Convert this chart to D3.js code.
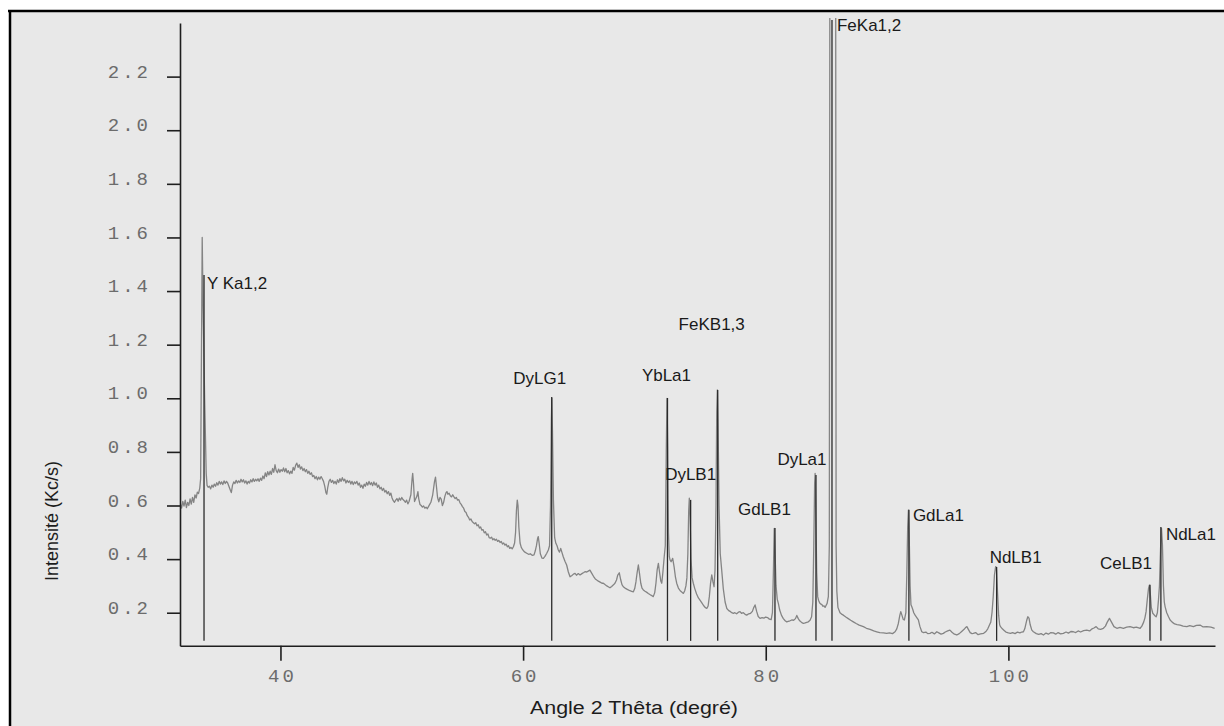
<!DOCTYPE html>
<html>
<head>
<meta charset="utf-8">
<script src="https://cdn.jsdelivr.net/npm/d3@7"></script>
<style>
  body { margin: 0; background: #fff; }
  svg { display: block; }
</style>
</head>
<body>
<svg id="chart" width="1224" height="726"></svg>
<script>
// XRF spectrum: [angle 2θ (degrees), intensity (Kc/s)]
const spectrum = [
  [31.75,0.605],[31.85,0.59],[31.95,0.615],[32.05,0.598],[32.15,0.62],[32.25,0.592],[32.35,0.612],[32.45,0.60],
  [32.55,0.625],[32.65,0.605],[32.75,0.63],[32.85,0.612],[32.95,0.64],[33.05,0.628],[33.15,0.65],[33.25,0.645],
  [33.35,0.665],[33.42,0.70],[33.5,1.25],[33.55,1.60],[33.62,1.35],[33.75,1.0],[33.88,0.72],[33.95,0.675],
  [34.05,0.668],[34.15,0.672],[34.25,0.662],[34.35,0.676],[34.45,0.668],[34.55,0.68],[34.65,0.672],[34.75,0.685],
  [34.85,0.676],[34.95,0.69],[35.05,0.68],[35.15,0.688],[35.25,0.678],[35.35,0.692],[35.45,0.682],[35.55,0.69],
  [35.65,0.684],[35.75,0.672],[35.85,0.66],[35.95,0.648],[36.05,0.676],[36.15,0.688],[36.25,0.682],[36.35,0.694],
  [36.45,0.684],[36.55,0.692],[36.65,0.686],[36.75,0.698],[36.85,0.688],[36.95,0.696],[37.05,0.684],[37.15,0.692],
  [37.25,0.68],[37.35,0.69],[37.45,0.684],[37.55,0.696],[37.65,0.688],[37.75,0.70],[37.85,0.69],[37.95,0.698],
  [38.05,0.692],[38.15,0.70],[38.25,0.69],[38.35,0.702],[38.45,0.694],[38.55,0.71],[38.65,0.70],[38.75,0.722],
  [38.85,0.708],[38.95,0.726],[39.05,0.714],[39.15,0.728],[39.25,0.716],[39.35,0.738],[39.45,0.724],[39.55,0.752],
  [39.65,0.73],[39.75,0.722],[39.85,0.736],[39.95,0.724],[40.05,0.734],[40.15,0.728],[40.25,0.74],[40.35,0.726],
  [40.45,0.738],[40.55,0.722],[40.65,0.73],[40.75,0.718],[40.85,0.728],[40.95,0.72],[41.05,0.742],[41.15,0.732],
  [41.25,0.75],[41.35,0.758],[41.45,0.742],[41.55,0.752],[41.65,0.736],[41.75,0.744],[41.85,0.73],[41.95,0.738],
  [42.05,0.726],[42.15,0.734],[42.25,0.72],[42.35,0.728],[42.45,0.716],[42.55,0.722],[42.65,0.708],[42.75,0.712],
  [42.85,0.70],[42.95,0.708],[43.05,0.696],[43.15,0.706],[43.25,0.698],[43.35,0.708],[43.45,0.70],[43.55,0.69],
  [43.65,0.672],[43.75,0.648],[43.82,0.642],[43.9,0.668],[44.0,0.69],[44.1,0.698],[44.2,0.686],[44.3,0.694],
  [44.4,0.682],[44.5,0.69],[44.6,0.68],[44.7,0.696],[44.8,0.686],[44.9,0.70],[45.0,0.69],[45.1,0.704],
  [45.2,0.692],[45.3,0.698],[45.4,0.684],[45.5,0.694],[45.6,0.686],[45.7,0.692],[45.8,0.68],[45.9,0.69],
  [46.0,0.678],[46.1,0.688],[46.2,0.682],[46.3,0.69],[46.4,0.676],[46.5,0.684],[46.6,0.668],[46.7,0.676],
  [46.8,0.664],[46.9,0.68],[47.0,0.672],[47.1,0.686],[47.2,0.676],[47.3,0.69],[47.4,0.678],[47.5,0.686],
  [47.6,0.674],[47.7,0.688],[47.8,0.676],[47.9,0.684],[48.0,0.668],[48.1,0.676],[48.2,0.662],[48.3,0.668],
  [48.4,0.656],[48.5,0.664],[48.6,0.65],[48.7,0.656],[48.8,0.644],[48.9,0.652],[49.0,0.638],[49.1,0.646],
  [49.2,0.628],[49.3,0.618],[49.4,0.612],[49.5,0.62],[49.6,0.626],[49.7,0.616],[49.8,0.628],[49.9,0.62],
  [50.0,0.63],[50.1,0.622],[50.2,0.618],[50.3,0.612],[50.4,0.62],[50.5,0.606],[50.6,0.615],[50.75,0.64],
  [50.85,0.70],[50.9,0.72],[50.97,0.68],[51.05,0.615],[51.15,0.625],[51.25,0.635],[51.33,0.652],[51.4,0.625],
  [51.5,0.604],[51.6,0.6],[51.7,0.594],[51.8,0.598],[51.9,0.59],[52.0,0.594],[52.1,0.588],[52.2,0.596],
  [52.3,0.604],[52.4,0.612],[52.55,0.64],[52.7,0.69],[52.78,0.706],[52.86,0.67],[52.95,0.63],[53.05,0.614],
  [53.15,0.63],[53.25,0.624],[53.35,0.6],[53.45,0.612],[53.55,0.634],[53.65,0.648],[53.72,0.652],[53.8,0.642],
  [53.9,0.646],[54.0,0.636],[54.1,0.632],[54.2,0.64],[54.3,0.632],[54.4,0.626],[54.5,0.63],[54.6,0.62],
  [54.7,0.622],[54.8,0.61],[54.9,0.604],[55.0,0.596],[55.1,0.59],[55.2,0.578],[55.3,0.574],[55.4,0.562],
  [55.5,0.556],[55.6,0.546],[55.7,0.55],[55.8,0.54],[55.9,0.536],[56.0,0.532],[56.1,0.536],[56.2,0.524],
  [56.3,0.528],[56.4,0.516],[56.5,0.52],[56.6,0.508],[56.7,0.51],[56.8,0.498],[56.9,0.502],[57.0,0.49],
  [57.1,0.494],[57.2,0.48],[57.3,0.478],[57.4,0.482],[57.5,0.472],[57.6,0.476],[57.7,0.47],[57.8,0.474],
  [57.9,0.466],[58.0,0.47],[58.1,0.462],[58.2,0.466],[58.3,0.456],[58.4,0.46],[58.5,0.452],[58.6,0.456],
  [58.7,0.446],[58.8,0.45],[58.9,0.44],[59.0,0.444],[59.1,0.438],[59.2,0.446],[59.3,0.46],[59.38,0.5],
  [59.45,0.58],[59.52,0.62],[59.58,0.6],[59.65,0.52],[59.75,0.46],[59.85,0.444],[59.95,0.436],[60.05,0.43],
  [60.15,0.426],[60.3,0.422],[60.45,0.418],[60.6,0.42],[60.75,0.414],[60.9,0.416],[61.0,0.43],[61.1,0.45],
  [61.2,0.478],[61.25,0.484],[61.32,0.46],[61.42,0.42],[61.55,0.404],[61.67,0.403],[61.8,0.41],[61.95,0.422],
  [62.08,0.434],[62.18,0.45],[62.26,0.6],[62.33,0.92],[62.37,1.0],[62.42,0.88],[62.5,0.62],[62.6,0.48],
  [62.7,0.459],[62.8,0.45],[62.9,0.434],[63.0,0.426],[63.1,0.44],[63.2,0.425],[63.31,0.409],[63.45,0.392],
  [63.59,0.378],[63.73,0.352],[63.87,0.334],[64.0,0.338],[64.15,0.344],[64.28,0.347],[64.4,0.34],[64.55,0.346],
  [64.69,0.341],[64.85,0.346],[65.0,0.35],[65.1,0.353],[65.25,0.352],[65.4,0.356],[65.51,0.359],[65.65,0.348],
  [65.8,0.336],[65.95,0.326],[66.07,0.322],[66.2,0.318],[66.35,0.314],[66.5,0.31],[66.61,0.31],[66.75,0.305],
  [66.9,0.3],[67.05,0.296],[67.16,0.293],[67.3,0.298],[67.45,0.304],[67.57,0.31],[67.7,0.322],[67.8,0.34],
  [67.93,0.349],[68.05,0.322],[68.15,0.305],[68.26,0.297],[68.4,0.292],[68.55,0.288],[68.67,0.285],[68.8,0.282],
  [68.95,0.28],[69.09,0.278],[69.2,0.29],[69.3,0.315],[69.4,0.35],[69.5,0.378],[69.6,0.345],[69.7,0.31],
  [69.8,0.292],[69.91,0.285],[70.05,0.28],[70.2,0.276],[70.32,0.272],[70.45,0.268],[70.6,0.264],[70.73,0.26],
  [70.85,0.275],[70.95,0.31],[71.05,0.36],[71.15,0.384],[71.25,0.35],[71.35,0.318],[71.43,0.31],[71.52,0.35],
  [71.62,0.403],[71.72,0.45],[71.8,0.8],[71.86,1.0],[71.92,0.82],[71.98,0.5],[72.05,0.41],[72.11,0.397],
  [72.2,0.39],[72.33,0.403],[72.45,0.37],[72.55,0.335],[72.66,0.31],[72.8,0.292],[72.95,0.282],[73.1,0.276],
  [73.21,0.272],[73.32,0.282],[73.42,0.3],[73.5,0.33],[73.58,0.42],[73.65,0.58],[73.7,0.627],[73.76,0.56],
  [73.84,0.4],[73.93,0.33],[74.03,0.31],[74.15,0.29],[74.3,0.27],[74.45,0.255],[74.58,0.247],[74.72,0.238],
  [74.86,0.228],[75.0,0.22],[75.14,0.216],[75.25,0.225],[75.35,0.26],[75.45,0.31],[75.55,0.341],[75.65,0.315],
  [75.74,0.297],[75.82,0.36],[75.9,0.6],[75.96,0.95],[76.01,1.031],[76.07,0.9],[76.15,0.6],[76.25,0.42],
  [76.37,0.359],[76.5,0.29],[76.65,0.24],[76.79,0.216],[76.95,0.208],[77.1,0.204],[77.2,0.2],[77.33,0.198],
  [77.45,0.2],[77.6,0.196],[77.75,0.202],[77.88,0.204],[78.0,0.198],[78.15,0.2],[78.3,0.194],[78.43,0.191],
  [78.6,0.196],[78.75,0.198],[78.9,0.205],[79.0,0.218],[79.12,0.229],[79.25,0.205],[79.38,0.186],[79.53,0.179],
  [79.7,0.182],[79.85,0.18],[80.0,0.184],[80.15,0.182],[80.3,0.176],[80.45,0.174],[80.55,0.2],[80.63,0.35],
  [80.7,0.515],[80.77,0.42],[80.85,0.3],[80.95,0.25],[81.04,0.235],[81.15,0.21],[81.3,0.19],[81.45,0.178],
  [81.6,0.17],[81.73,0.166],[81.85,0.168],[82.0,0.17],[82.14,0.173],[82.3,0.172],[82.45,0.178],[82.56,0.19],
  [82.68,0.178],[82.8,0.17],[82.95,0.164],[83.1,0.16],[83.25,0.162],[83.38,0.164],[83.51,0.166],[83.65,0.172],
  [83.78,0.185],[83.88,0.24],[83.96,0.45],[84.03,0.68],[84.07,0.72],[84.12,0.6],[84.2,0.35],[84.28,0.26],
  [84.35,0.247],[84.45,0.236],[84.55,0.232],[84.63,0.23],[84.72,0.224],[84.8,0.226],[84.89,0.22],[84.98,0.228],
  [85.06,0.235],[85.16,0.26],[85.24,0.45],[85.29,2.9],[85.76,2.9],[85.8,0.45],
  [85.86,0.28],[85.95,0.22],[86.12,0.2],[86.25,0.195],[86.4,0.191],[86.6,0.184],[86.8,0.178],[87.0,0.172],
  [87.22,0.166],[87.45,0.16],[87.7,0.154],[88.05,0.148],[88.3,0.142],[88.6,0.138],[88.9,0.132],[89.15,0.129],
  [89.4,0.126],[89.7,0.125],[89.97,0.123],[90.2,0.125],[90.45,0.122],[90.66,0.129],[90.8,0.14],[90.93,0.16],
  [91.05,0.19],[91.13,0.204],[91.23,0.19],[91.33,0.175],[91.43,0.173],[91.55,0.2],[91.63,0.35],[91.7,0.52],
  [91.76,0.583],[91.82,0.5],[91.9,0.3],[91.97,0.23],[92.04,0.222],[92.12,0.212],[92.2,0.2],[92.31,0.191],
  [92.45,0.182],[92.58,0.173],[92.7,0.15],[92.86,0.129],[93.0,0.126],[93.2,0.128],[93.35,0.122],[93.54,0.123],
  [93.7,0.127],[93.9,0.121],[94.1,0.129],[94.3,0.124],[94.45,0.12],[94.64,0.123],[94.8,0.128],[95.0,0.132],
  [95.18,0.135],[95.35,0.127],[95.55,0.12],[95.75,0.117],[95.95,0.122],[96.15,0.13],[96.35,0.138],[96.5,0.146],
  [96.58,0.148],[96.7,0.138],[96.85,0.126],[97.0,0.122],[97.11,0.123],[97.3,0.126],[97.5,0.118],[97.7,0.121],
  [97.96,0.123],[98.15,0.13],[98.3,0.14],[98.45,0.155],[98.55,0.165],[98.65,0.2],[98.75,0.26],[98.85,0.34],
  [98.95,0.372],[99.02,0.36],[99.1,0.28],[99.2,0.19],[99.28,0.155],[99.35,0.148],[99.5,0.14],[99.65,0.134],
  [99.8,0.128],[100.0,0.125],[100.17,0.123],[100.35,0.126],[100.55,0.122],[100.75,0.128],[100.95,0.125],[101.1,0.128],
  [101.24,0.129],[101.35,0.14],[101.5,0.17],[101.6,0.185],[101.7,0.18],[101.8,0.155],[101.93,0.135],[102.06,0.129],
  [102.3,0.122],[102.5,0.119],[102.7,0.122],[102.89,0.117],[103.1,0.124],[103.3,0.12],[103.5,0.126],[103.71,0.125],
  [103.9,0.12],[104.1,0.126],[104.3,0.121],[104.53,0.123],[104.75,0.128],[104.95,0.124],[105.15,0.13],[105.36,0.129],
  [105.55,0.126],[105.75,0.132],[105.95,0.128],[106.2,0.133],[106.46,0.135],[106.7,0.132],[106.9,0.14],[107.05,0.143],
  [107.23,0.148],[107.4,0.14],[107.6,0.138],[107.83,0.142],[108.0,0.15],[108.15,0.165],[108.33,0.179],[108.5,0.165],
  [108.7,0.148],[108.94,0.142],[109.2,0.145],[109.48,0.142],[109.75,0.146],[110.03,0.148],[110.3,0.144],[110.55,0.146],
  [110.86,0.142],[111.0,0.15],[111.15,0.165],[111.25,0.18],[111.35,0.204],[111.45,0.25],[111.55,0.29],[111.62,0.303],
  [111.7,0.27],[111.78,0.22],[111.9,0.198],[112.05,0.19],[112.18,0.185],[112.28,0.2],[112.37,0.247],[112.45,0.3],
  [112.55,0.45],[112.62,0.515],[112.7,0.45],[112.78,0.3],[112.85,0.24],[112.92,0.222],[113.05,0.2],[113.2,0.185],
  [113.33,0.173],[113.5,0.165],[113.7,0.158],[113.9,0.156],[114.16,0.154],[114.4,0.15],[114.71,0.148],[114.95,0.152],
  [115.25,0.148],[115.5,0.153],[115.8,0.154],[116.05,0.147],[116.35,0.148],[116.7,0.146],[117.0,0.142]
];

// Identified emission lines
const lineNames  = ["Y Ka1,2", "DyLG1", "YbLa1", "DyLB1", "FeKB1,3", "GdLB1", "DyLa1", "FeKa1,2", "GdLa1", "NdLB1", "CeLB1", "NdLa1"];
const lineAngles = [33.70, 62.36, 71.90, 73.81, 76.04, 80.76, 84.14, 85.46, 91.80, 99.03, 111.67, 112.57];
const lineTops   = [1.460, 1.005, 1.001, 0.621, 1.031, 0.516, 0.714, 2.411, 0.584, 0.371, 0.304, 0.520];
const lineFloor  = 0.095;

// Axis ticks
const yTicks = [0.2, 0.4, 0.6, 0.8, 1.0, 1.2, 1.4, 1.6, 1.8, 2.0, 2.2];
const xTicks = [40, 60, 80, 100];

const xTitle = "Angle 2 Thêta (degré)";
const yTitle = "Intensité (Kc/s)";

const svg = d3.select("#chart");

// paper background and frame
svg.append("rect").attr("width", 1224).attr("height", 726).attr("fill", "#ffffff");
svg.append("rect").attr("x", 10).attr("y", 11).attr("width", 1214).attr("height", 715).attr("fill", "#e8e8e8");
svg.append("line").attr("x1", 8).attr("x2", 1224).attr("y1", 11).attr("y2", 11)
  .attr("stroke", "#000").attr("stroke-width", 2.5);
svg.append("line").attr("x1", 10).attr("x2", 10).attr("y1", 10).attr("y2", 726)
  .attr("stroke", "#000").attr("stroke-width", 2.5);

const x = d3.scaleLinear().domain([31.72, 117.03]).range([180, 1215]);
const y = d3.scaleLinear().domain([0.077, 2.40]).range([645.7, 23]);

svg.append("clipPath").attr("id", "plotclip")
  .append("rect").attr("x", 180).attr("y", 18).attr("width", 1040).attr("height", 630);

// spectrum trace
svg.append("path")
  .datum(spectrum)
  .attr("clip-path", "url(#plotclip)")
  .attr("fill", "none")
  .attr("stroke", "#848484")
  .attr("stroke-width", 1.3)
  .attr("stroke-linejoin", "round")
  .attr("d", d3.line().x(d => x(d[0])).y(d => y(d[1])));

// line markers
const lines = lineNames.map((n, i) => ({ name: n, angle: lineAngles[i], top: lineTops[i] }));
svg.append("g").selectAll("line").data(lines).join("line")
  .attr("x1", d => x(d.angle)).attr("x2", d => x(d.angle))
  .attr("y1", y(lineFloor)).attr("y2", d => y(d.top))
  .attr("stroke", "#2a2a2a").attr("stroke-width", 1.3);

// label placement relative to the top of each marker: [dx, dy, anchor]
const labelPlace = {
  "Y Ka1,2": [3, 8, "start"],
  "DyLG1":   [-12, -19, "middle"],
  "YbLa1":   [-1, -23, "middle"],
  "DyLB1":   [0, -26, "middle"],
  "FeKB1,3": [-6, -66, "middle"],
  "GdLB1":   [-10.5, -19, "middle"],
  "DyLa1":   [-14, -16, "middle"],
  "FeKa1,2": [5, 5, "start"],
  "GdLa1":   [4, 5, "start"],
  "NdLB1":   [19, -10, "middle"],
  "CeLB1":   [-24, -22, "middle"],
  "NdLa1":   [5, 7, "start"]
};
svg.append("g").selectAll("text").data(lines).join("text")
  .attr("x", d => x(d.angle) + labelPlace[d.name][0])
  .attr("y", d => y(d.top) + labelPlace[d.name][1])
  .attr("dy", "0.35em")
  .attr("text-anchor", d => labelPlace[d.name][2])
  .attr("font-family", "'Liberation Sans', Arial, sans-serif")
  .attr("font-size", 17)
  .attr("fill", "#1a1a1a")
  .text(d => d.name);

// axes
const yAxis = svg.append("g").attr("transform", "translate(180,0)")
  .call(d3.axisLeft(y).tickValues(yTicks).tickSize(13).tickSizeOuter(0).tickFormat(d3.format(".1f")));
const xAxis = svg.append("g").attr("transform", "translate(0,645.7)")
  .call(d3.axisBottom(x).tickValues(xTicks).tickSize(15).tickSizeOuter(0).tickFormat(d3.format("d")));

[yAxis, xAxis].forEach(g => {
  g.select(".domain").attr("stroke", "#1e1e1e").attr("stroke-width", 1.6);
  g.selectAll(".tick line").attr("stroke", "#1e1e1e").attr("stroke-width", 1.6);
  g.selectAll(".tick text")
    .attr("font-family", "'Liberation Mono', 'Courier New', monospace")
    .attr("font-size", 19)
    .attr("letter-spacing", "3px")
    .attr("fill", "#6c6c6c");
});
yAxis.selectAll(".tick text").attr("x", -29).attr("y", -6).attr("dy", "0.35em");
xAxis.selectAll(".tick text").attr("y", 29.5).attr("dy", "0.35em").attr("dx", 1.5);

// axis titles
svg.append("text")
  .attr("x", 634).attr("y", 708).attr("dy", "0.35em")
  .attr("text-anchor", "middle")
  .attr("font-family", "'Liberation Sans', Arial, sans-serif")
  .attr("font-size", 18)
  .attr("textLength", 208).attr("lengthAdjust", "spacingAndGlyphs")
  .attr("fill", "#1c1c1c")
  .text(xTitle);
svg.append("text")
  .attr("transform", "translate(52,521) rotate(-90)")
  .attr("dy", "0.35em")
  .attr("text-anchor", "middle")
  .attr("font-family", "'Liberation Sans', Arial, sans-serif")
  .attr("font-size", 18)
  .attr("fill", "#1c1c1c")
  .text(yTitle);
</script>
</body>
</html>
